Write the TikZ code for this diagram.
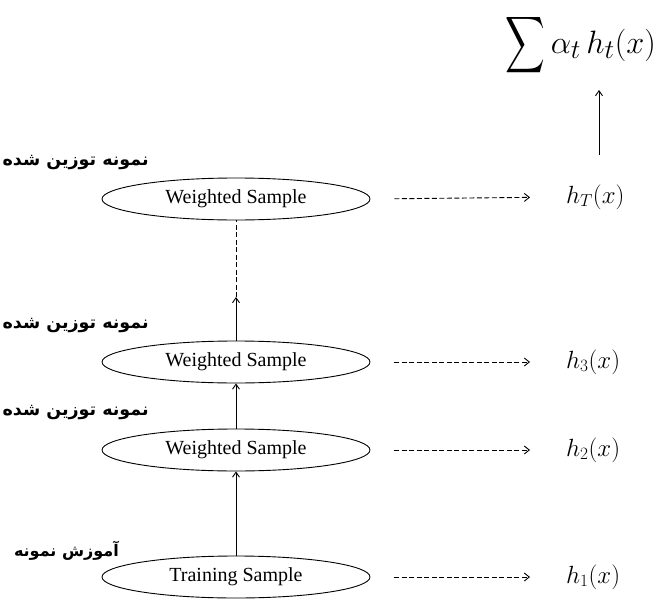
\documentclass[tikz,border=0pt]{standalone}
\usepackage{exscale}
\usepackage{fontspec}
\setmainfont{Liberation Serif}
\newfontfamily\arabicfont[Script=Arabic]{DejaVu Sans}
\TeXXeTstate=1
\usetikzlibrary{shapes.geometric,arrows.meta}
\begin{document}
\begin{tikzpicture}[x=1pt,y=-1pt,
  samp/.style={draw, ellipse, minimum width=268pt, minimum height=42pt, inner sep=0pt, font=\fontsize{20}{22}\selectfont, line width=0.9pt},
  falabel/.style={anchor=east, inner sep=0pt, font=\arabicfont\bfseries\fontsize{17.5}{19}\selectfont},
  hlabel/.style={anchor=west, inner sep=0pt, font=\fontsize{25}{27}\selectfont},
  uparrow/.style={-{Straight Barb[length=5pt,width=7pt]}, line width=0.9pt},
  dasharrow/.style={dashed, dash pattern=on 5pt off 2.5pt, -{Straight Barb[length=5pt,width=8pt]}, line width=0.9pt}]
\useasboundingbox (0,0) rectangle (658,607);
% ellipses
\node[samp] (e1) at (236,199) {Weighted Sample};
\node[samp] (e2) at (236,362) {Weighted Sample};
\node[samp] (e3) at (236,450) {Weighted Sample};
\node[samp] (e4) at (236,577) {Training Sample};
% Persian labels
\node[falabel] (l1) at (149,163) {\beginR نمونه توزین شده\endR};
\node[falabel] (l2) at (149,326) {\beginR نمونه توزین شده\endR};
\node[falabel] (l3) at (149,413) {\beginR نمونه توزین شده\endR};
\node[falabel, font=\arabicfont\bfseries\fontsize{16}{18}\selectfont] (l4) at (119,551) {\beginR آموزش نمونه\endR};
% h labels
\node[hlabel] (h1) at (566,197) {$h_T(x)$};
\node[hlabel] (h2) at (566,362) {$h_3(x)$};
\node[hlabel] (h3) at (566,450) {$h_2(x)$};
\node[hlabel] (h4) at (566,577) {$h_1(x)$};
\node[inner sep=0pt, anchor=east, font=\fontsize{24.88}{27}\selectfont] (sum) at (656,45) {\scalebox{1.3}{$\vcenter{\hbox{\scalebox{0.85}[1.22]{$\displaystyle\sum$}}}\,\alpha_t\, h_t(x)$}};
% vertical arrows
\draw[uparrow] (e4.north) -- (e3.south);
\draw[uparrow] (e3.north) -- (e2.south);
\coordinate (mid) at (236,297);
\draw[uparrow] (e2.north) -- (mid);
\draw[dashed, dash pattern=on 5pt off 2.5pt, line width=0.9pt] (mid) -- (e1.south);
\coordinate (ht) at (599,155);
\coordinate (st) at (599,90);
\draw[uparrow] (ht) -- (st);
% horizontal dashed arrows
\foreach \i in {1,2,3,4}{
  \draw[dasharrow, shorten <=24pt, shorten >=36pt] (e\i.east) -- (h\i.west);
}
\end{tikzpicture}
\end{document}
